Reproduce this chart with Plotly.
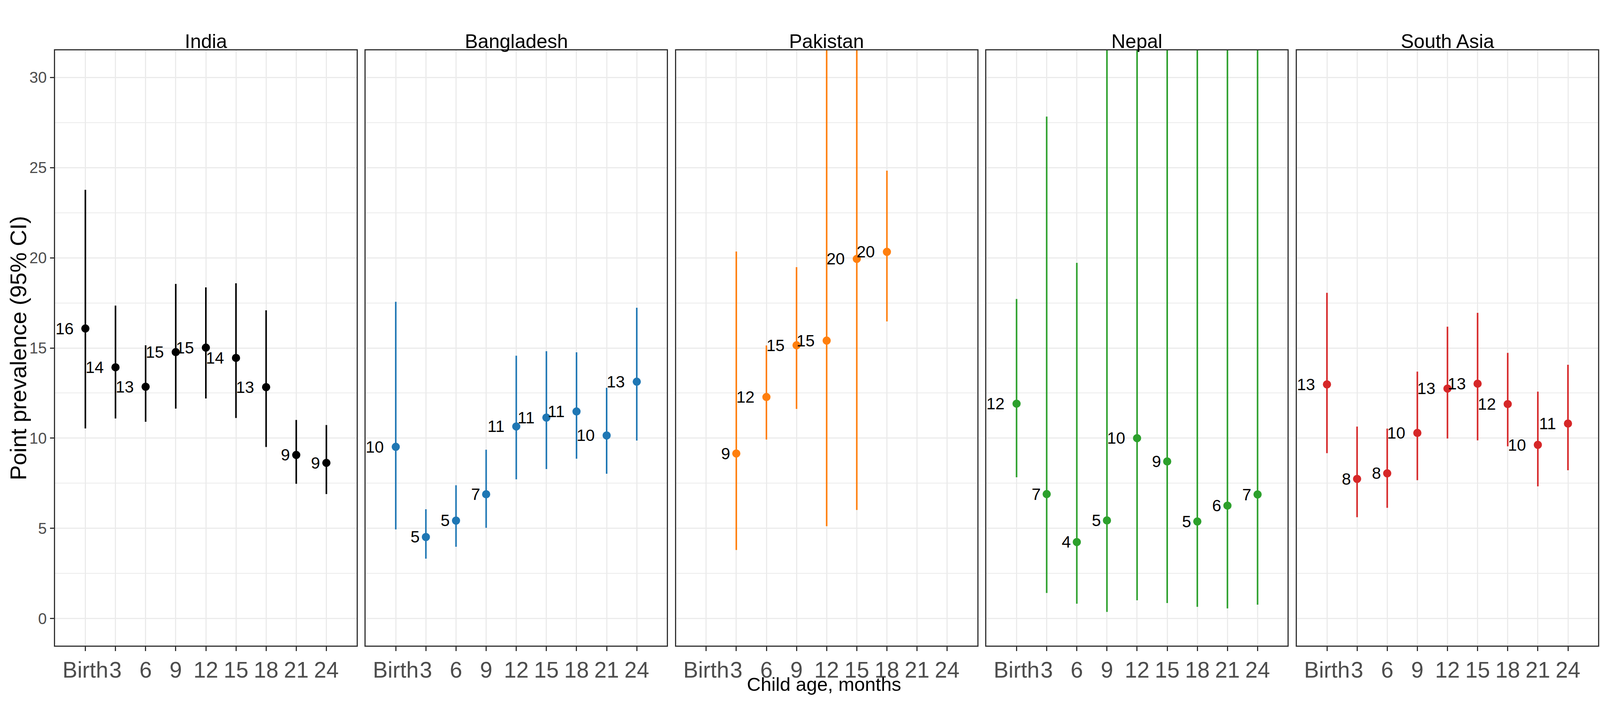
import plotly.graph_objects as go
from plotly.subplots import make_subplots

# child age categories (x axis) and panels
ages = ["Birth", "3", "6", "9", "12", "15", "18", "21", "24"]
countries = ["India", "Bangladesh", "Pakistan", "Nepal", "South Asia"]
colors = ["#000000", "#1F77B4", "#FF7F0E", "#2CA02C", "#D62728"]

# point prevalence with 95% CI
india_est = [16.08, 13.93, 12.85, 14.77, 15.02, 14.45, 12.83, 9.07, 8.63]
india_lo = [10.54, 11.09, 10.91, 11.64, 12.20, 11.12, 9.51, 7.47, 6.90]
india_hi = [23.77, 17.35, 15.15, 18.55, 18.36, 18.59, 17.09, 11.01, 10.73]

bangladesh_est = [9.52, 4.52, 5.43, 6.89, 10.65, 11.14, 11.48, 10.15, 13.13]
bangladesh_lo = [4.94, 3.32, 3.98, 5.03, 7.72, 8.29, 8.86, 8.03, 9.87]
bangladesh_hi = [17.56, 6.06, 7.39, 9.36, 14.57, 14.82, 14.76, 12.79, 17.23]

# upper limits above 31.5 are cut off in the figure, values there are guesses
pakistan_est = [None, 9.15, 12.28, 15.15, 15.41, 19.94, 20.33, None, None]
pakistan_lo = [None, 3.80, 9.92, 11.62, 5.12, 6.02, 16.47, None, None]
pakistan_hi = [None, 20.35, 15.14, 19.48, 36.0, 40.0, 24.83, None, None]

nepal_est = [11.91, 6.90, 4.24, 5.44, 10.00, 8.71, 5.38, 6.26, 6.88]
nepal_lo = [7.83, 1.42, 0.82, 0.37, 1.01, 0.86, 0.65, 0.56, 0.77]
nepal_hi = [17.72, 27.83, 19.72, 45.0, 40.0, 42.0, 45.0, 48.0, 44.0]

south_asia_est = [12.98, 7.74, 8.05, 10.29, 12.75, 13.02, 11.89, 9.63, 10.81]
south_asia_lo = [9.17, 5.62, 6.14, 7.67, 9.98, 9.88, 9.55, 7.33, 8.22]
south_asia_hi = [18.06, 10.64, 10.53, 13.69, 16.18, 16.95, 14.73, 12.58, 14.07]

y_ticks = [0, 5, 10, 15, 20, 25, 30]

est_all = [india_est, bangladesh_est, pakistan_est, nepal_est, south_asia_est]
lo_all = [india_lo, bangladesh_lo, pakistan_lo, nepal_lo, south_asia_lo]
hi_all = [india_hi, bangladesh_hi, pakistan_hi, nepal_hi, south_asia_hi]

# design size in pixels (layout fractions below are taken from it)
W, H = 4200, 1800
FONT = "Liberation Sans, Arial, sans-serif"
LABEL_SIZE = 42

x_pos = list(range(len(ages)))

fig = make_subplots(rows=1, cols=5, shared_yaxes=True)

# panel placement in pixels
left, right, gap = 145, 4195, 24
pw = (right - left - 4 * gap) / 5
top_px, bot_px = 129, 1653

annotations = []
for i in range(5):
    est, lo, hi = est_all[i], lo_all[i], hi_all[i]
    up = [h - e if e is not None else None for e, h in zip(est, hi)]
    dn = [e - l if e is not None else None for e, l in zip(est, lo)]
    fig.add_trace(go.Scatter(
        x=x_pos, y=est, mode="markers",
        marker=dict(color=colors[i], size=21),
        error_y=dict(type="data", symmetric=False, array=up, arrayminus=dn,
                     color=colors[i], thickness=4, width=0),
        showlegend=False, cliponaxis=True,
    ), row=1, col=i + 1)

    sfx = "" if i == 0 else str(i + 1)
    for xp, v in zip(x_pos, est):
        if v is None:
            continue
        txt = f"{v:.0f}"
        annotations.append(dict(
            x=xp, y=v, xref="x" + sfx, yref="y" + sfx, text=txt,
            showarrow=False, xanchor="right", yanchor="middle",
            xshift=-0.6 * len(txt) * 0.556 * LABEL_SIZE,
            font=dict(family=FONT, size=LABEL_SIZE, color="black"),
        ))

    x0 = (left + i * (pw + gap)) / W
    x1 = (left + i * (pw + gap) + pw) / W
    fig.layout["xaxis" + sfx].domain = [x0, x1]
    fig.layout["yaxis" + sfx].domain = [1 - bot_px / H, 1 - top_px / H]

    # strip title
    annotations.append(dict(
        x=(x0 + x1) / 2, y=1 - 106 / H, xref="paper", yref="paper",
        text=countries[i], showarrow=False, xanchor="center", yanchor="middle",
        font=dict(family=FONT, size=50, color="black"),
    ))

fig.update_xaxes(
    range=[-1, 9], tickvals=x_pos, ticktext=ages, tickangle=0,
    showgrid=True, gridcolor="#EBEBEB", gridwidth=3, zeroline=False,
    showline=True, mirror=True, linecolor="#333333", linewidth=2.5,
    ticks="outside", ticklen=11, tickwidth=2.5, tickcolor="#333333",
    tickfont=dict(family=FONT, size=57, color="#4D4D4D"),
    automargin=False,
)
fig.update_yaxes(
    range=[-1.5, 31.5], tickvals=y_ticks,
    showgrid=True, gridcolor="#EBEBEB", gridwidth=3, zeroline=False,
    minor=dict(dtick=2.5, tick0=0, showgrid=True, gridcolor="#EBEBEB", gridwidth=1.5),
    showline=True, mirror=True, linecolor="#333333", linewidth=2.5,
    automargin=False,
)
fig.update_yaxes(
    ticks="outside", ticklen=11, tickwidth=2.5, tickcolor="#333333",
    tickfont=dict(family=FONT, size=40, color="#4D4D4D"),
    row=1, col=1,
)
for c in range(2, 6):
    fig.update_yaxes(showticklabels=False, ticks="", row=1, col=c)

# axis titles
annotations.append(dict(
    x=47 / W, y=1 - 891 / H, xref="paper", yref="paper",
    text="Point prevalence (95% CI)", textangle=-90, showarrow=False,
    xanchor="center", yanchor="middle",
    font=dict(family=FONT, size=58, color="black"),
))
annotations.append(dict(
    x=2163 / W, y=1 - 1752 / H, xref="paper", yref="paper",
    text="Child age, months", showarrow=False,
    xanchor="center", yanchor="middle",
    font=dict(family=FONT, size=49, color="black"),
))

fig.update_layout(
    autosize=True,
    margin=dict(l=0, r=0, t=0, b=0),
    paper_bgcolor="white", plot_bgcolor="white",
    font=dict(family=FONT),
    annotations=annotations,
)

# let the figure fill the browser window, whatever its real size
fig.write_html(
    "out.html",
    config={"displayModeBar": False, "responsive": True},
    default_width="100vw",
    default_height="100vh",
    post_script=(
        "document.body.style.margin='0px';"
        "document.body.style.overflow='hidden';"
        "Plotly.Plots.resize(document.getElementById('{plot_id}'));"
    ),
)
